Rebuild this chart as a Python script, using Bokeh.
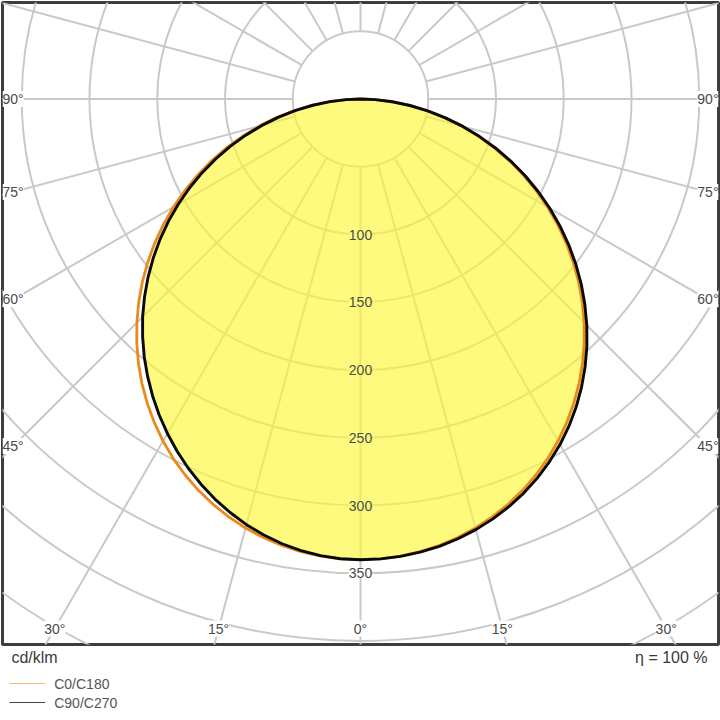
import math
from bokeh.plotting import figure
from bokeh.models import Range1d, Label
from bokeh.layouts import column
from bokeh.core.properties import value
from bokeh.embed import file_html
from bokeh.resources import INLINE

# ---------------- data (cd/klm), every 2.5 degrees ----------------
gamma = [0, 2.5, 5, 7.5, 10, 12.5, 15, 17.5, 20, 22.5, 25, 27.5, 30, 32.5, 35, 37.5,
         40, 42.5, 45, 47.5, 50, 52.5, 55, 57.5, 60, 62.5, 65, 67.5, 70, 72.5, 75,
         77.5, 80, 82.5, 85, 87.5, 90]
c0 = [340.0, 339.7, 338.6, 336.9, 334.6, 331.5, 327.8, 323.4, 318.3, 312.6, 306.2,
      299.2, 291.5, 283.2, 274.3, 264.9, 254.9, 244.4, 233.4, 222.0, 210.2, 197.9,
      185.4, 172.5, 159.4, 146.0, 132.5, 118.8, 105.0, 91.1, 77.3, 63.5, 49.8,
      36.4, 23.3, 10.9, 0]
c180 = [340.0, 339.7, 338.6, 336.9, 334.6, 331.5, 327.8, 323.4, 318.3, 312.6, 306.2,
        299.2, 291.5, 283.2, 274.3, 264.9, 254.9, 244.4, 233.4, 222.0, 210.2, 197.9,
        185.4, 172.5, 159.4, 146.0, 132.5, 118.8, 105.0, 91.1, 77.3, 63.5, 49.8,
        36.4, 23.3, 10.9, 0]
c90 = [340.0, 339.7, 338.8, 337.3, 335.2, 332.4, 329.0, 324.9, 320.2, 314.8, 308.7,
       301.9, 294.5, 286.3, 277.5, 268.0, 257.9, 247.3, 236.2, 224.6, 212.7, 200.3,
       187.6, 174.6, 161.3, 147.8, 134.1, 120.2, 106.2, 92.2, 78.2, 64.2, 50.4,
       36.8, 23.6, 11.0, 0]
c270 = [340.0, 339.6, 338.3, 336.2, 333.3, 329.6, 325.2, 320.0, 314.2, 307.7, 300.7,
        293.1, 285.0, 276.5, 267.5, 258.1, 248.3, 238.0, 227.4, 216.2, 204.7, 192.8,
        180.6, 168.1, 155.3, 142.3, 129.1, 115.7, 102.3, 88.8, 75.3, 61.8, 48.5,
        35.4, 22.7, 10.6, 0]

rings = [50, 100, 150, 200, 250, 300, 350, 400, 450]
ring_labels = [100, 150, 200, 250, 300, 350]
spoke_angles = list(range(0, 360, 15))
side_labels = [90, 75, 60, 45]
bottom_labels = [-30, -15, 0, 15, 30]
series_names = ["C0/C180", "C90/C270"]
eta_text = "η = 100 %"
unit_text = "cd/klm"

# ---------------- styling ----------------
SC = 1.355          # px per cd/klm
OX, OY = 360, 98.5  # origin on screen
GRID = "#c9c9c9"
FONT = "Liberation Sans"
TXT = "#4a4a4a"
ORANGE = "#ea8a1c"
BLACK = "#0a0a0a"
FILL = "#fcf734"
FILL_ALPHA = 0.64
FILL_BG = "#fdfa7d"

xmax = (718 - OX) / SC
ymax = (OY - 2) / SC
ymin = -(644 - OY) / SC

p = figure(width=720, height=646,
           x_range=Range1d(-xmax, xmax), y_range=Range1d(ymin, ymax),
           min_border_left=2, min_border_right=2, min_border_top=2, min_border_bottom=2,
           output_backend="svg", toolbar_location=None,
           x_axis_location=None, y_axis_location=None)
p.grid.visible = False
p.outline_line_color = "#3d3d3d"
p.outline_line_width = 3
p.background_fill_color = "white"
p.border_fill_color = "white"

# rings
p.circle(x=[0] * len(rings), y=[0] * len(rings), radius=rings,
         fill_color=None, line_color=GRID, line_width=2)

# spokes
r_in, r_out = rings[0], 800
rad = [math.radians(a) for a in spoke_angles]
p.segment(x0=[r_in * math.sin(a) for a in rad], y0=[-r_in * math.cos(a) for a in rad],
          x1=[r_out * math.sin(a) for a in rad], y1=[-r_out * math.cos(a) for a in rad],
          line_color=GRID, line_width=2)


def curve(left, right):
    xs, ys = [], []
    for g, v in zip(reversed(gamma), reversed(left)):
        a = math.radians(g)
        xs.append(-v * math.sin(a)); ys.append(-v * math.cos(a))
    for g, v in zip(gamma[1:], right[1:]):
        a = math.radians(g)
        xs.append(v * math.sin(a)); ys.append(-v * math.cos(a))
    return xs, ys


ox_, oy_ = curve(c180, c0)
bx_, by_ = curve(c270, c90)

p.patch(bx_, by_, fill_color=FILL, fill_alpha=FILL_ALPHA, line_color=None)
p.line(ox_, oy_, line_color=ORANGE, line_width=2.8, line_join="round")
p.line(bx_, by_, line_color=BLACK, line_width=2.9, line_join="round")

# ring labels
for r in ring_labels:
    bg = FILL_BG if r < c90[0] else "white"
    p.add_layout(Label(x=0, y=-r, text=str(r), text_align="center", text_baseline="middle",
                       text_font=FONT, text_font_size="14px", text_color=TXT,
                       background_fill_color=bg))

# side angle labels
xc = (358 - 11) / SC
for g in side_labels:
    a = math.radians(g)
    y = -xc * math.cos(a) / math.sin(a)
    p.add_layout(Label(x=-xmax, y=y, text=f"{g}°", text_align="left", text_baseline="middle",
                       text_font=FONT, text_font_size="14px", text_color=TXT,
                       background_fill_color="white"))
    p.add_layout(Label(x=xmax, y=y, text=f"{g}°", text_align="right", text_baseline="middle",
                       text_font=FONT, text_font_size="14px", text_color=TXT,
                       background_fill_color="white"))

# bottom angle labels
yb = -(628 - OY) / SC
for g in bottom_labels:
    a = math.radians(g)
    x = -yb * math.tan(a)
    p.add_layout(Label(x=x, y=yb, text=f"{abs(g)}°", text_align="center", text_baseline="middle",
                       text_font=FONT, text_font_size="14px", text_color=TXT,
                       background_fill_color="white"))

# ---------------- footer ----------------
q = figure(width=720, height=74, x_range=Range1d(0, 720), y_range=Range1d(720, 646),
           min_border=0, output_backend="svg", toolbar_location=None,
           x_axis_location=None, y_axis_location=None)
q.grid.visible = False
q.outline_line_color = None
q.background_fill_color = "white"
q.border_fill_color = "white"

q.text(x=[9], y=[657], text=[unit_text], text_font=value(FONT), text_font_size="16px",
       text_baseline="middle", text_align="left", text_color="#3a3a3a")
q.text(x=[709], y=[657], text=[eta_text], text_font=value(FONT), text_font_size="16px",
       text_baseline="middle", text_align="right", text_color="#3a3a3a")
q.segment(x0=[7, 7], x1=[43, 43], y0=[683, 702], y1=[683, 702],
          line_color=[ORANGE, "#333333"], line_width=1.1, line_alpha=[0.6, 0.9])
q.text(x=[52, 52], y=[683, 702], text=series_names, text_font=value(FONT),
       text_font_size="14px", text_baseline="middle", text_align="left", text_color="#555555")

lay = column(p, q, spacing=0)
try:
    from bokeh.models import GlobalInlineStyleSheet
    lay.stylesheets = [GlobalInlineStyleSheet(css="body{margin:0;}")]
except Exception:
    pass

open("out.html", "w").write(file_html(lay, INLINE))
